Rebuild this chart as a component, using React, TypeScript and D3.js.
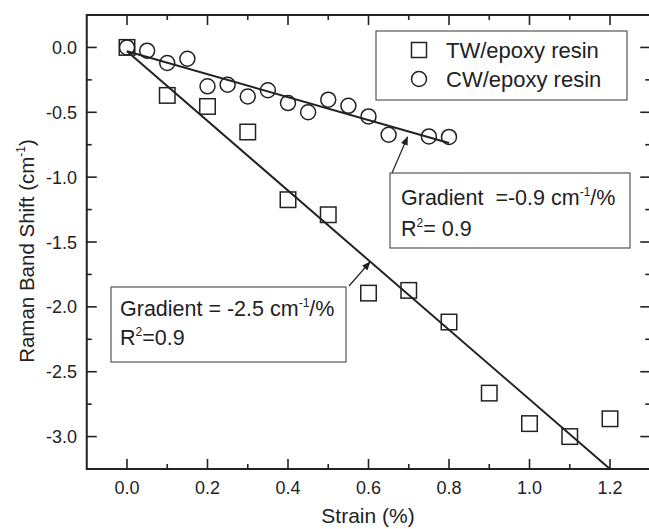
import React from "react";
import * as d3 from "d3";

const twStrain = [0, 0.1, 0.2, 0.3, 0.4, 0.5, 0.6, 0.7, 0.8, 0.9, 1.0, 1.1, 1.2];
const twShift = [0, -0.37, -0.455, -0.652, -1.174, -1.29, -1.894, -1.873, -2.117, -2.665, -2.9, -3.0, -2.863];
const cwStrain = [0, 0.05, 0.1, 0.15, 0.2, 0.25, 0.3, 0.35, 0.4, 0.45, 0.5, 0.55, 0.6, 0.65, 0.75, 0.8];
const cwShift = [0, -0.025, -0.12, -0.087, -0.3, -0.288, -0.378, -0.33, -0.429, -0.5, -0.403, -0.45, -0.532, -0.673, -0.686, -0.69];
const twFitX = [0, 1.2];
const twFitY = [-0.03, -3.25];
const cwFitX = [0, 0.8];
const cwFitY = [-0.03, -0.737];
const xMajor = [0, 0.2, 0.4, 0.6, 0.8, 1.0, 1.2];
const xMinor = [0.1, 0.3, 0.5, 0.7, 0.9, 1.1];
const yMajor = [0, -0.5, -1.0, -1.5, -2.0, -2.5, -3.0];
const yMinor = [-0.25, -0.75, -1.25, -1.75, -2.25, -2.75];
const legendLabels = ["TW/epoxy resin", "CW/epoxy resin"];

const W = 649, H = 529;
const L = 86.75, R = 650.25, T = 15, B = 469;
const ink = "#222";
const font = "'Liberation Sans', Arial, Helvetica, sans-serif";

export default function App() {
  const x = d3.scaleLinear().domain([-0.1, 1.3]).range([L, R]);
  const y = d3.scaleLinear().domain([-3.25, 0.25]).range([B, T]);
  const line = d3.line<[number, number]>().x(d => x(d[0])).y(d => y(d[1]));
  const tw = twFitX.map((v, i) => [v, twFitY[i]] as [number, number]);
  const cw = cwFitX.map((v, i) => [v, cwFitY[i]] as [number, number]);
  const sq = 15.5, cr = 7.5;
  const major = 10, minor = 5;
  const pre = { whiteSpace: "pre" as const };

  return (
    <svg width={W} height={H} style={{ position: "absolute", left: 0, top: 0, background: "#fff" }} fontFamily={font}>
      <defs>
        <marker id="ah" viewBox="0 0 10 10" refX="9" refY="5" markerWidth="9" markerHeight="9" orient="auto" markerUnits="userSpaceOnUse">
          <path d="M0,1 L10,5 L0,9 Z" fill={ink} />
        </marker>
        <clipPath id="clip"><rect x={L} y={T} width={R - L} height={B - T} /></clipPath>
      </defs>

      {/* ticks */}
      <g stroke={ink} strokeWidth={1.6}>
        {xMajor.map(v => (
          <g key={"xm" + v}>
            <line x1={x(v)} x2={x(v)} y1={B} y2={B - major} />
            <line x1={x(v)} x2={x(v)} y1={T} y2={T + major} />
          </g>
        ))}
        {xMinor.map(v => (
          <g key={"xn" + v}>
            <line x1={x(v)} x2={x(v)} y1={B} y2={B - minor} />
            <line x1={x(v)} x2={x(v)} y1={T} y2={T + minor} />
          </g>
        ))}
        {yMajor.map(v => (
          <g key={"ym" + v}>
            <line x1={L} x2={L + major} y1={y(v)} y2={y(v)} />
            <line x1={R} x2={R - major} y1={y(v)} y2={y(v)} />
          </g>
        ))}
        {yMinor.map(v => (
          <g key={"yn" + v}>
            <line x1={L} x2={L + minor} y1={y(v)} y2={y(v)} />
            <line x1={R} x2={R - minor} y1={y(v)} y2={y(v)} />
          </g>
        ))}
      </g>

      {/* frame */}
      <rect x={L} y={T} width={R - L} height={B - T} fill="none" stroke={ink} strokeWidth={2} />

      {/* tick labels */}
      <g fill={ink} fontSize={18}>
        {xMajor.map(v => (
          <text key={"xl" + v} x={x(v)} y={494} textAnchor="middle">{d3.format(".1f")(v)}</text>
        ))}
        {yMajor.map(v => (
          <text key={"yl" + v} x={77} y={y(v) + 6.5} textAnchor="end">{d3.format(".1f")(v).replace("−", "-")}</text>
        ))}
      </g>

      {/* axis titles */}
      <text x={368} y={523} textAnchor="middle" fontSize={21} fill={ink}>Strain (%)</text>
      <text transform={`translate(34,251) rotate(-90)`} textAnchor="middle" fontSize={20.5} fill={ink}>
        Raman Band Shift (cm<tspan fontSize={12} dy={-9}>-1</tspan><tspan dy={9}>)</tspan>
      </text>

      {/* fit lines */}
      <g clipPath="url(#clip)" fill="none" stroke={ink} strokeWidth={2}>
        <path d={line(tw) || ""} />
        <path d={line(cw) || ""} />
      </g>

      {/* data */}
      <g fill="none" stroke={ink} strokeWidth={1.5}>
        {twStrain.map((v, i) => (
          <rect key={"tw" + i} x={x(v) - sq / 2} y={y(twShift[i]) - sq / 2} width={sq} height={sq} />
        ))}
        {cwStrain.map((v, i) => (
          <circle key={"cw" + i} cx={x(v)} cy={y(cwShift[i])} r={cr} />
        ))}
      </g>

      {/* legend */}
      <rect x={376} y={31} width={251} height={69} fill="#fff" stroke="#555" strokeWidth={1.2} />
      <rect x={419 - 7.5} y={50 - 7.5} width={15} height={15} fill="none" stroke={ink} strokeWidth={1.5} />
      <circle cx={419} cy={79} r={7.5} fill="none" stroke={ink} strokeWidth={1.5} />
      <text x={446} y={57.5} fontSize={22} fill={ink}>{legendLabels[0]}</text>
      <text x={446} y={86.5} fontSize={22} fill={ink}>{legendLabels[1]}</text>

      {/* annotation CW */}
      <rect x={390} y={173} width={240} height={75} fill="#fff" stroke="#555" strokeWidth={1.2} />
      <text x={401} y={205} fontSize={21.5} fill={ink} style={pre}>
        {"Gradient  =-0.9 cm"}<tspan fontSize={12} dy={-9}>-1</tspan><tspan dy={9}>/%</tspan>
      </text>
      <text x={401} y={236} fontSize={21.5} fill={ink} style={pre}>
        R<tspan fontSize={12} dy={-9}>2</tspan><tspan dy={9}>= 0.9</tspan>
      </text>
      <line x1={392} y1={173} x2={407.5} y2={137} stroke={ink} strokeWidth={1.2} markerEnd="url(#ah)" />

      {/* annotation TW */}
      <rect x={111} y={287} width={235} height={75} fill="#fff" stroke="#555" strokeWidth={1.2} />
      <text x={120} y={316} fontSize={21.5} fill={ink} style={pre}>
        {"Gradient = -2.5 cm"}<tspan fontSize={12} dy={-9}>-1</tspan><tspan dy={9}>/%</tspan>
      </text>
      <text x={120} y={345} fontSize={21.5} fill={ink} style={pre}>
        R<tspan fontSize={12} dy={-9}>2</tspan><tspan dy={9}>=0.9</tspan>
      </text>
      <line x1={349} y1={286} x2={370} y2={262} stroke={ink} strokeWidth={1.2} markerEnd="url(#ah)" />
    </svg>
  );
}
